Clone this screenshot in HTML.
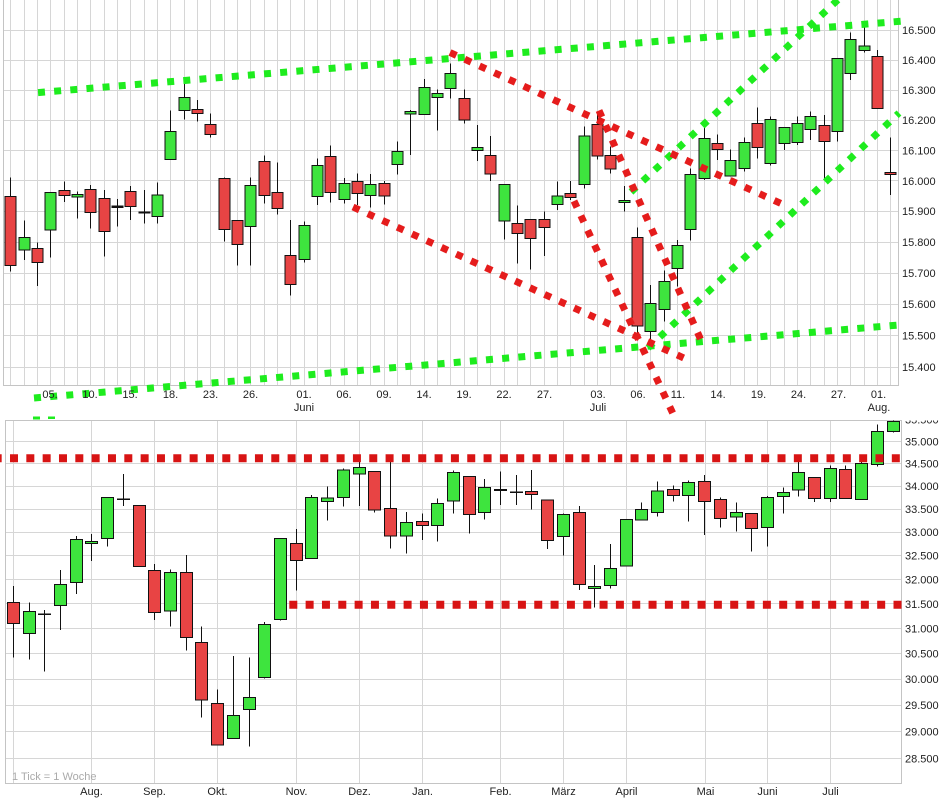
<!DOCTYPE html>
<html>
<head>
<meta charset="utf-8">
<style>
html,body{margin:0;padding:0;background:#fff;}
body{width:941px;height:805px;overflow:hidden;}
svg{display:block;}
text{font-family:"Liberation Sans",Arial,sans-serif;font-size:11px;fill:#222;}
.g{fill:#3ee43e;stroke:#111;stroke-width:1;}
.r{fill:#e84444;stroke:#111;stroke-width:1;}
.d{fill:#111;}
.wk{stroke:#111;stroke-width:1;fill:none;}
.grid{stroke:#d6d6d6;stroke-width:1;fill:none;}
.frame{stroke:#c4c4c4;stroke-width:1;fill:none;}
.gd{stroke:#1eec1e;stroke-width:7;stroke-dasharray:7 9.2;fill:none;}
.rd{stroke:#e51c1c;stroke-width:7;stroke-dasharray:7 9.2;fill:none;}
.rb{stroke:#d81414;stroke-width:8;stroke-dasharray:8 8.33;fill:none;}
</style>
</head>
<body>
<svg width="941" height="805" viewBox="0 0 941 805" xmlns="http://www.w3.org/2000/svg">
<defs>
<clipPath id="cb"><rect x="5" y="420.5" width="936" height="363"/></clipPath>
<clipPath id="cbp"><rect x="5" y="420.5" width="897" height="363"/></clipPath>
</defs>

<!-- ===== TOP CHART GRID ===== -->
<g shape-rendering="crispEdges">
<path class="grid" d="M10.5 0V385M24.5 0V385M37.5 0V385M50.5 0V385M64.5 0V385M77.5 0V385M90.5 0V385M104.5 0V385M117.5 0V385M130.5 0V385M144.5 0V385M157.5 0V385M170.5 0V385M184.5 0V385M197.5 0V385M210.5 0V385M224.5 0V385M237.5 0V385M250.5 0V385M264.5 0V385M277.5 0V385M290.5 0V385M304.5 0V385M317.5 0V385M330.5 0V385M344.5 0V385M357.5 0V385M370.5 0V385M384.5 0V385M397.5 0V385M410.5 0V385M424.5 0V385M437.5 0V385M450.5 0V385M464.5 0V385M477.5 0V385M490.5 0V385M504.5 0V385M517.5 0V385M530.5 0V385M544.5 0V385M557.5 0V385M570.5 0V385M584.5 0V385M597.5 0V385M610.5 0V385M624.5 0V385M637.5 0V385M650.5 0V385M664.5 0V385M677.5 0V385M690.5 0V385M704.5 0V385M717.5 0V385M730.5 0V385M744.5 0V385M757.5 0V385M770.5 0V385M784.5 0V385M797.5 0V385M810.5 0V385M824.5 0V385M837.5 0V385M850.5 0V385M864.5 0V385M877.5 0V385M890.5 0V385"/>
<path class="grid" d="M3 30.5H898M3 60.5H898M3 90.5H898M3 120.5H898M3 150.5H898M3 180.5H898M3 211.5H898M3 242.5H898M3 273.5H898M3 304.5H898M3 335.5H898M3 367.5H898"/>
<path class="frame" d="M3.5 0V385.5H898.5V0"/>
</g>

<!-- ===== TOP CANDLES ===== -->
<g shape-rendering="crispEdges">
<path class="wk" d="M10.5 177.3V271.7M24.5 220.7V260M37.5 242.7V286M50.5 192.3V257.3M64.5 181.7V202M77.5 191.7V218.3M90.5 185V228.3M104.5 190V256.7M117.5 199V226.7M130.5 186V220M144.5 190V223.3M157.5 182.7V223.3M170.5 110.7V159.3M184.5 80V119.3M197.5 100V121.7M210.5 113.3V137.7M224.5 177.3V241.7M237.5 220.7V265.7M250.5 177.7V265.7M264.5 155.7V203.3M277.5 162.7V214.3M290.5 220V295.7M304.5 221.7V262.3M317.5 158.7V205M330.5 145.7V202.3M344.5 178V203.3M357.5 173.3V205M370.5 174V207.3M384.5 181V204.7M397.5 141.7V174.3M410.5 110V155M424.5 79V114.3M437.5 89.3V130.7M450.5 63.3V98.3M464.5 89.3V123.3M477.5 125V161M490.5 136V181M504.5 184.3V239.3M517.5 205.7V263.3M530.5 219.3V269.3M544.5 211.7V256M557.5 181.7V210M570.5 181V200M584.5 126.7V188.3M597.5 113.3V159.3M610.5 146.7V173.3M624.5 186V211.7M637.5 227.7V333.3M650.5 285V340M664.5 270.7V321.7M677.5 240V286.7M690.5 168.3V240.7M704.5 125V180M717.5 134.3V160M730.5 149.3V176M744.5 137.7V171.7M757.5 107.7V158.3M770.5 116.7V165.7M784.5 127.3V150M797.5 116.7V145M810.5 111.7V140M824.5 115V180M837.5 58.3V141.7M850.5 32.7V80M864.5 25V52.7M877.5 50V108.3M890.5 137.3V195"/>
<rect class="r" x="5" y="196.7" width="11" height="68.6"/>
<rect class="g" x="19" y="237.3" width="11" height="12.7"/>
<rect class="r" x="32" y="248.3" width="11" height="14"/>
<rect class="g" x="45" y="192.3" width="11" height="37.7"/>
<rect class="r" x="59" y="190.3" width="11" height="5"/>
<rect class="g" x="72" y="194.3" width="11" height="2.5"/>
<rect class="r" x="85" y="189.3" width="11" height="23"/>
<rect class="r" x="99" y="198.3" width="11" height="33"/>
<rect class="d" x="111.5" y="205.7" width="12" height="2.2"/>
<rect class="r" x="125" y="191.3" width="11" height="15"/>
<rect class="d" x="138.5" y="211.3" width="12" height="2"/>
<rect class="g" x="152" y="195" width="11" height="21.7"/>
<rect class="g" x="165" y="131.3" width="11" height="28"/>
<rect class="g" x="179" y="97.3" width="11" height="13"/>
<rect class="r" x="192" y="109.3" width="11" height="4"/>
<rect class="r" x="205" y="124.3" width="11" height="10"/>
<rect class="r" x="219" y="178.7" width="11" height="50.6"/>
<rect class="r" x="232" y="220.7" width="11" height="23.6"/>
<rect class="g" x="245" y="185.3" width="11" height="41"/>
<rect class="r" x="259" y="161.3" width="11" height="34"/>
<rect class="r" x="272" y="192.3" width="11" height="16.4"/>
<rect class="r" x="285" y="255.3" width="11" height="29"/>
<rect class="g" x="299" y="225.3" width="11" height="34"/>
<rect class="g" x="312" y="165.3" width="11" height="31"/>
<rect class="r" x="325" y="156.3" width="11" height="36"/>
<rect class="g" x="339" y="183.3" width="11" height="16"/>
<rect class="r" x="352" y="181.7" width="11" height="11.6"/>
<rect class="g" x="365" y="184.3" width="11" height="11"/>
<rect class="r" x="379" y="183.3" width="11" height="12.7"/>
<rect class="g" x="392" y="151.3" width="11" height="13"/>
<rect class="g" x="405" y="111.3" width="11" height="2.7"/>
<rect class="g" x="419" y="87.3" width="11" height="27"/>
<rect class="g" x="432" y="93.3" width="11" height="4"/>
<rect class="g" x="445" y="73.3" width="11" height="15"/>
<rect class="r" x="459" y="98.7" width="11" height="21.3"/>
<rect class="g" x="472" y="147.3" width="11" height="3"/>
<rect class="r" x="485" y="155.3" width="11" height="18.7"/>
<rect class="g" x="499" y="184.3" width="11" height="36.7"/>
<rect class="r" x="512" y="223.3" width="11" height="10"/>
<rect class="r" x="525" y="219.3" width="11" height="19"/>
<rect class="r" x="539" y="219.3" width="11" height="8"/>
<rect class="g" x="552" y="196" width="11" height="8.3"/>
<rect class="r" x="565" y="193.3" width="11" height="4"/>
<rect class="g" x="579" y="136" width="11" height="48.3"/>
<rect class="r" x="592" y="124.3" width="11" height="31.7"/>
<rect class="r" x="605" y="155.3" width="11" height="13.7"/>
<rect class="g" x="619" y="200.3" width="11" height="2"/>
<rect class="r" x="632" y="237.3" width="11" height="88.7"/>
<rect class="g" x="645" y="303.3" width="11" height="28.4"/>
<rect class="g" x="659" y="281.7" width="11" height="27.6"/>
<rect class="g" x="672" y="245.7" width="11" height="22.6"/>
<rect class="g" x="685" y="174.3" width="11" height="55"/>
<rect class="g" x="699" y="138.3" width="11" height="40"/>
<rect class="r" x="712" y="143.3" width="11" height="6"/>
<rect class="g" x="725" y="160.7" width="11" height="15.3"/>
<rect class="g" x="739" y="142.7" width="11" height="25.6"/>
<rect class="r" x="752" y="123.3" width="11" height="24"/>
<rect class="g" x="765" y="119.3" width="11" height="44"/>
<rect class="g" x="779" y="127.3" width="11" height="16"/>
<rect class="g" x="792" y="123.3" width="11" height="19.4"/>
<rect class="g" x="805" y="116.7" width="11" height="12.6"/>
<rect class="r" x="819" y="125.3" width="11" height="16"/>
<rect class="g" x="832" y="58.3" width="11" height="73.4"/>
<rect class="g" x="845" y="39.3" width="11" height="34"/>
<rect class="g" x="859" y="46" width="11" height="4.7"/>
<rect class="r" x="872" y="56.7" width="11" height="51.6"/>
<rect class="r" x="885" y="172.3" width="11" height="2"/>
</g>

<!-- ===== TOP DOTTED LINES ===== -->
<line class="gd" x1="38" y1="92.6" x2="906" y2="20.8"/>
<line class="gd" x1="34" y1="398" x2="899" y2="325"/>
<line class="gd" x1="631" y1="192" x2="843" y2="-5"/>
<line class="gd" x1="648" y1="348" x2="899" y2="113"/>
<line class="rd" x1="450" y1="52.5" x2="782" y2="204"/>
<line class="rd" x1="599" y1="110.5" x2="704" y2="347"/>
<line class="rd" x1="574" y1="201" x2="675" y2="418"/>
<line class="rd" x1="353" y1="207" x2="686" y2="359"/>
<rect x="33" y="416.5" width="7" height="3" fill="#1eec1e"/>
<rect x="48" y="416.5" width="7" height="2.5" fill="#1eec1e"/>

<!-- ===== TOP AXIS LABELS ===== -->
<g>
<text x="902" y="34">16.500</text>
<text x="902" y="64">16.400</text>
<text x="902" y="94">16.300</text>
<text x="902" y="124">16.200</text>
<text x="902" y="154.5">16.100</text>
<text x="902" y="185">16.000</text>
<text x="902" y="215">15.900</text>
<text x="902" y="246">15.800</text>
<text x="902" y="277">15.700</text>
<text x="902" y="308">15.600</text>
<text x="902" y="339.5">15.500</text>
<text x="902" y="371">15.400</text>
</g>
<g text-anchor="middle">
<text x="50" y="398">05.</text>
<text x="90" y="398">10.</text>
<text x="130" y="398">15.</text>
<text x="170.5" y="398">18.</text>
<text x="210.5" y="398">23.</text>
<text x="250.5" y="398">26.</text>
<text x="304" y="398">01.</text>
<text x="344" y="398">06.</text>
<text x="384" y="398">09.</text>
<text x="424" y="398">14.</text>
<text x="464" y="398">19.</text>
<text x="504" y="398">22.</text>
<text x="544.5" y="398">27.</text>
<text x="598" y="398">03.</text>
<text x="638" y="398">06.</text>
<text x="678" y="398">11.</text>
<text x="718" y="398">14.</text>
<text x="758.5" y="398">19.</text>
<text x="798.5" y="398">24.</text>
<text x="838.5" y="398">27.</text>
<text x="878.5" y="398">01.</text>
<text x="304" y="411">Juni</text>
<text x="598" y="411">Juli</text>
<text x="879" y="411">Aug.</text>
</g>

<!-- ===== BOTTOM CHART GRID ===== -->
<g shape-rendering="crispEdges">
<path class="grid" d="M5 441.5H901M5 463.5H901M5 486.5H901M5 509.5H901M5 532.5H901M5 555.5H901M5 579.5H901M5 603.5H901M5 628.5H901M5 653.5H901M5 679.5H901M5 705.5H901M5 731.5H901M5 758.5H901"/>
<path class="grid" d="M13.5 420V783M91.5 420V783M154.5 420V783M217.5 420V783M296.5 420V783M359.5 420V783M422.5 420V783M500.5 420V783M563.5 420V783M626.5 420V783M705.5 420V783M767.5 420V783M830.5 420V783"/>
<rect class="frame" x="5.5" y="420.5" width="896" height="363"/>
</g>

<text x="12" y="780" style="fill:#aaa;">1 Tick = 1 Woche</text>

<!-- ===== BOTTOM CANDLES ===== -->
<g shape-rendering="crispEdges" clip-path="url(#cbp)">
<path class="wk" d="M13.5 586V657.3M29.5 602.7V659.3M44.5 610V671.7M60.5 570V630M76.5 536V594M91.5 534V561M107.5 497.3V546.7M123.5 474V506M139.5 505.7V566.3M154.5 564V620M170.5 569.3V626.7M186.5 555V650.7M201.5 626.7V717.7M217.5 689.3V745M233.5 656V738.3M249.5 657.3V746.7M264.5 622V678.3M280.5 538.3V620.7M296.5 529V590.7M311.5 495V558.3M327.5 486.7V520.7M343.5 468.3V506.7M359.5 461.7V506M374.5 471.3V512.7M390.5 459.3V548.3M406.5 512V553.3M422.5 513.3V540M437.5 498.7V541.7M453.5 470.7V513.3M469.5 476.3V533.3M484.5 479V519.3M500.5 471.7V505M516.5 475V505M531.5 470V509.3M547.5 500V549M563.5 513.3V555.7M579.5 506V590M594.5 565V607.3M610.5 544V588.7M626.5 519.3V566M641.5 502.7V520M657.5 481.7V516.7M673.5 485.3V501.7M688.5 480.7V521.7M704.5 475V535M720.5 497.3V527.7M736.5 502.3V531.7M751.5 513.7V551.7M767.5 496V546.7M783.5 487.3V513.3M798.5 461V496.7M814.5 477.3V502M830.5 465.3V502M845.5 465.3V498.7M861.5 461.7V499.3M877.5 424.7V466.7M893.5 420.7V432.7"/>
<rect class="r" x="7.5" y="602.3" width="12" height="21"/>
<rect class="g" x="23.5" y="611.7" width="12" height="21.6"/>
<rect class="d" x="38" y="613.5" width="13" height="1.6"/>
<rect class="g" x="54.5" y="584.3" width="12" height="21"/>
<rect class="g" x="70.5" y="539.3" width="12" height="43"/>
<rect class="g" x="85.5" y="541.7" width="12" height="1.8"/>
<rect class="g" x="101.5" y="497.3" width="12" height="41"/>
<rect class="d" x="117" y="498.5" width="13" height="1.6"/>
<rect class="r" x="133.5" y="505.7" width="12" height="60.6"/>
<rect class="r" x="148.5" y="570.7" width="12" height="41.6"/>
<rect class="g" x="164.5" y="572.7" width="12" height="38.3"/>
<rect class="r" x="180.5" y="572.7" width="12" height="64.6"/>
<rect class="r" x="195.5" y="642.7" width="12" height="57.3"/>
<rect class="r" x="211.5" y="703.3" width="12" height="41.7"/>
<rect class="g" x="227.5" y="715.3" width="12" height="23"/>
<rect class="g" x="243.5" y="697.3" width="12" height="12"/>
<rect class="g" x="258.5" y="624.3" width="12" height="53"/>
<rect class="g" x="274.5" y="538.3" width="12" height="81"/>
<rect class="r" x="290.5" y="543.3" width="12" height="17"/>
<rect class="g" x="305.5" y="497.3" width="12" height="61"/>
<rect class="g" x="321.5" y="498" width="12" height="3.3"/>
<rect class="g" x="337.5" y="470" width="12" height="27.3"/>
<rect class="g" x="353.5" y="467.3" width="12" height="6.7"/>
<rect class="r" x="368.5" y="471.3" width="12" height="38.7"/>
<rect class="r" x="384.5" y="508.3" width="12" height="27.7"/>
<rect class="g" x="400.5" y="522.7" width="12" height="13.3"/>
<rect class="r" x="416.5" y="521.7" width="12" height="3.6"/>
<rect class="g" x="431.5" y="503.3" width="12" height="22"/>
<rect class="g" x="447.5" y="472.3" width="12" height="28.7"/>
<rect class="r" x="463.5" y="476.3" width="12" height="38"/>
<rect class="g" x="478.5" y="487.3" width="12" height="25"/>
<rect class="d" x="494" y="489" width="13" height="2.2"/>
<rect class="d" x="510" y="491.5" width="13" height="1.6"/>
<rect class="r" x="525.5" y="491.3" width="12" height="3"/>
<rect class="r" x="541.5" y="500" width="12" height="40.3"/>
<rect class="g" x="557.5" y="514.3" width="12" height="22"/>
<rect class="r" x="573.5" y="512.7" width="12" height="71.6"/>
<rect class="g" x="588.5" y="586.3" width="12" height="2.4"/>
<rect class="g" x="604.5" y="568.3" width="12" height="17"/>
<rect class="g" x="620.5" y="519.3" width="12" height="46.7"/>
<rect class="g" x="635.5" y="509.3" width="12" height="10.7"/>
<rect class="g" x="651.5" y="491" width="12" height="21.3"/>
<rect class="r" x="667.5" y="489.3" width="12" height="6"/>
<rect class="g" x="682.5" y="482.3" width="12" height="13"/>
<rect class="r" x="698.5" y="481.3" width="12" height="20"/>
<rect class="r" x="714.5" y="499.3" width="12" height="19"/>
<rect class="g" x="730.5" y="512.7" width="12" height="4.3"/>
<rect class="r" x="745.5" y="513.7" width="12" height="14.6"/>
<rect class="g" x="761.5" y="497.7" width="12" height="29.6"/>
<rect class="g" x="777.5" y="492.7" width="12" height="3.6"/>
<rect class="g" x="792.5" y="472.3" width="12" height="17.7"/>
<rect class="r" x="808.5" y="477.3" width="12" height="21.4"/>
<rect class="g" x="824.5" y="468.7" width="12" height="30"/>
<rect class="r" x="839.5" y="469.7" width="12" height="29"/>
<rect class="g" x="855.5" y="463.3" width="12" height="36"/>
<rect class="g" x="871.5" y="431.3" width="12" height="33"/>
<rect class="g" x="887.5" y="421.3" width="12" height="10"/>
</g>

<!-- ===== BOTTOM DOTTED LINES ===== -->
<line class="rb" x1="-6.33" y1="458.3" x2="904" y2="458.3"/>
<line class="rb" x1="289.3" y1="604.7" x2="902" y2="604.7"/>

<!-- ===== BOTTOM AXIS LABELS ===== -->
<g clip-path="url(#cb)">
<text x="905" y="423.4">35.500</text>
<text x="905" y="445.3">35.000</text>
<text x="905" y="467.5">34.500</text>
<text x="905" y="490">34.000</text>
<text x="905" y="513">33.500</text>
<text x="905" y="536">33.000</text>
<text x="905" y="559.5">32.500</text>
<text x="905" y="583.5">32.000</text>
<text x="905" y="608">31.500</text>
<text x="905" y="632.5">31.000</text>
<text x="905" y="657.5">30.500</text>
<text x="905" y="683">30.000</text>
<text x="905" y="709">29.500</text>
<text x="905" y="735.5">29.000</text>
<text x="905" y="762.3">28.500</text>
</g>
<g text-anchor="middle">
<text x="91.5" y="795">Aug.</text>
<text x="154.5" y="795">Sep.</text>
<text x="217.5" y="795">Okt.</text>
<text x="296.5" y="795">Nov.</text>
<text x="359.5" y="795">Dez.</text>
<text x="422.5" y="795">Jan.</text>
<text x="500.5" y="795">Feb.</text>
<text x="563.5" y="795">März</text>
<text x="626.5" y="795">April</text>
<text x="705.5" y="795">Mai</text>
<text x="767.5" y="795">Juni</text>
<text x="830.5" y="795">Juli</text>
</g>
</svg>
</body>
</html>
